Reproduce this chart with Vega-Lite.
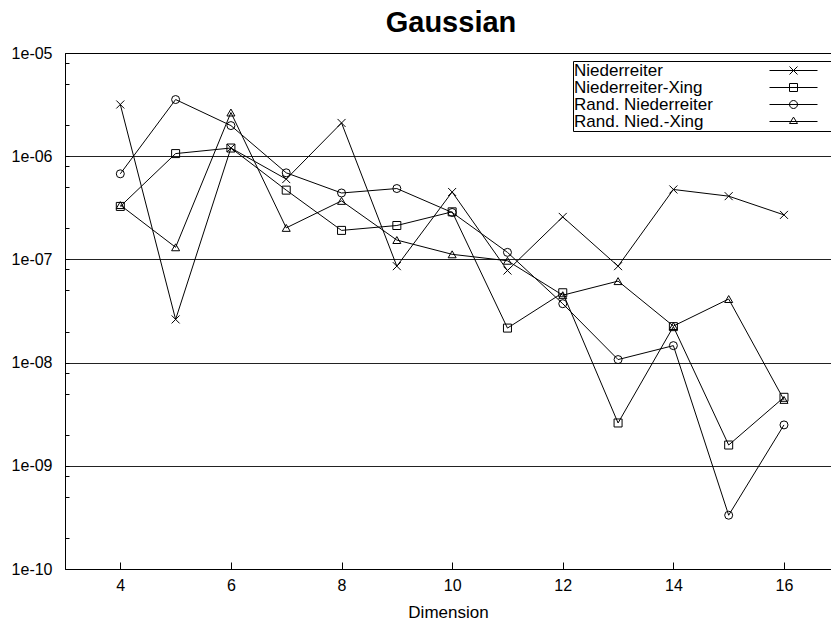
{
  "$schema": "https://vega.github.io/schema/vega-lite/v6.json",
  "width": 766,
  "height": 516,
  "autosize": {"type": "none"},
  "padding": {"left": 65, "top": 53, "right": 0, "bottom": 57},
  "background": "white",
  "title": {"text": "Gaussian", "fontSize": 29, "fontWeight": "bold", "anchor": "middle", "offset": 7, "dx": 3, "color": "black"},
  "config": {
    "font": "Liberation Sans",
    "view": {"stroke": null},
    "axis": {"labelColor": "black", "titleColor": "black", "domainColor": "black", "tickColor": "black", "domainWidth": 1, "tickWidth": 1}
  },
  "data": {"values": [
    {"d": 4, "series": "Niederreiter", "v": 3.17e-6},
    {"d": 5, "series": "Niederreiter", "v": 2.62e-8},
    {"d": 6, "series": "Niederreiter", "v": 1.2e-6},
    {"d": 7, "series": "Niederreiter", "v": 6.0e-7},
    {"d": 8, "series": "Niederreiter", "v": 2.1e-6},
    {"d": 9, "series": "Niederreiter", "v": 8.6e-8},
    {"d": 10, "series": "Niederreiter", "v": 4.5e-7},
    {"d": 11, "series": "Niederreiter", "v": 7.8e-8},
    {"d": 12, "series": "Niederreiter", "v": 2.58e-7},
    {"d": 13, "series": "Niederreiter", "v": 8.6e-8},
    {"d": 14, "series": "Niederreiter", "v": 4.76e-7},
    {"d": 15, "series": "Niederreiter", "v": 4.1e-7},
    {"d": 16, "series": "Niederreiter", "v": 2.7e-7},
    {"d": 4, "series": "Niederreiter-Xing", "v": 3.26e-7},
    {"d": 5, "series": "Niederreiter-Xing", "v": 1.06e-6},
    {"d": 6, "series": "Niederreiter-Xing", "v": 1.2e-6},
    {"d": 7, "series": "Niederreiter-Xing", "v": 4.69e-7},
    {"d": 8, "series": "Niederreiter-Xing", "v": 1.91e-7},
    {"d": 9, "series": "Niederreiter-Xing", "v": 2.13e-7},
    {"d": 10, "series": "Niederreiter-Xing", "v": 2.89e-7},
    {"d": 11, "series": "Niederreiter-Xing", "v": 2.16e-8},
    {"d": 12, "series": "Niederreiter-Xing", "v": 4.75e-8},
    {"d": 13, "series": "Niederreiter-Xing", "v": 2.6e-9},
    {"d": 14, "series": "Niederreiter-Xing", "v": 2.23e-8},
    {"d": 15, "series": "Niederreiter-Xing", "v": 1.59e-9},
    {"d": 16, "series": "Niederreiter-Xing", "v": 4.61e-9},
    {"d": 4, "series": "Rand. Niederreiter", "v": 6.75e-7},
    {"d": 5, "series": "Rand. Niederreiter", "v": 3.54e-6},
    {"d": 6, "series": "Rand. Niederreiter", "v": 1.98e-6},
    {"d": 7, "series": "Rand. Niederreiter", "v": 6.9e-7},
    {"d": 8, "series": "Rand. Niederreiter", "v": 4.4e-7},
    {"d": 9, "series": "Rand. Niederreiter", "v": 4.86e-7},
    {"d": 10, "series": "Rand. Niederreiter", "v": 2.85e-7},
    {"d": 11, "series": "Rand. Niederreiter", "v": 1.17e-7},
    {"d": 12, "series": "Rand. Niederreiter", "v": 3.72e-8},
    {"d": 13, "series": "Rand. Niederreiter", "v": 1.07e-8},
    {"d": 14, "series": "Rand. Niederreiter", "v": 1.46e-8},
    {"d": 15, "series": "Rand. Niederreiter", "v": 3.32e-10},
    {"d": 16, "series": "Rand. Niederreiter", "v": 2.49e-9},
    {"d": 4, "series": "Rand. Nied.-Xing", "v": 3.36e-7},
    {"d": 5, "series": "Rand. Nied.-Xing", "v": 1.31e-7},
    {"d": 6, "series": "Rand. Nied.-Xing", "v": 2.65e-6},
    {"d": 7, "series": "Rand. Nied.-Xing", "v": 2.02e-7},
    {"d": 8, "series": "Rand. Nied.-Xing", "v": 3.69e-7},
    {"d": 9, "series": "Rand. Nied.-Xing", "v": 1.54e-7},
    {"d": 10, "series": "Rand. Nied.-Xing", "v": 1.12e-7},
    {"d": 11, "series": "Rand. Nied.-Xing", "v": 9.7e-8},
    {"d": 12, "series": "Rand. Nied.-Xing", "v": 4.5e-8},
    {"d": 13, "series": "Rand. Nied.-Xing", "v": 6.16e-8},
    {"d": 14, "series": "Rand. Nied.-Xing", "v": 2.26e-8},
    {"d": 15, "series": "Rand. Nied.-Xing", "v": 4.13e-8},
    {"d": 16, "series": "Rand. Nied.-Xing", "v": 4.35e-9}
  ]},
  "layer": [
    {
      "mark": {"type": "line", "color": "black", "strokeWidth": 1},
      "encoding": {
        "x": {"field": "d", "type": "quantitative", "scale": {"domain": [3, 16.85], "nice": false, "zero": false},
              "axis": {"values": [4, 6, 8, 10, 12, 14, 16], "tickSize": -7, "labelFontSize": 16, "labelPadding": 15, "grid": false, "title": "Dimension", "titleFontSize": 17, "titleFontWeight": "normal", "titlePadding": 11, "labelFlush": false}},
        "y": {"field": "v", "type": "quantitative", "scale": {"type": "log", "domain": [1e-10, 1e-5], "nice": false},
              "axis": {
                "values": [1e-10, 2e-10, 5e-10, 8e-10, 1e-9, 2e-9, 5e-9, 8e-9, 1e-8, 2e-8, 5e-8, 8e-8, 1e-7, 2e-7, 5e-7, 8e-7, 1e-6, 2e-6, 5e-6, 8e-6, 1e-5],
                "format": ".0e",
                "labelExpr": "substring(datum.label,0,2)=='1e' ? (datum.value > 5e-10 ? replace(datum.label,'e-','e-0') : datum.label) : ''",
                "labelFontSize": 16, "labelPadding": 17, "tickSize": -4, "title": null,
                "grid": true, "gridColor": "#222", "gridWidth": 1,
                "gridOpacity": {"condition": {"test": "substring(format(datum.value,'.0e'),0,2)=='1e'", "value": 1}, "value": 0},
                "labelFlush": false
              }},
        "detail": {"field": "series"}
      }
    },
    {
      "mark": {"type": "point", "filled": false, "color": "black", "strokeWidth": 1, "size": 64, "opacity": 1},
      "encoding": {
        "x": {"field": "d", "type": "quantitative", "axis": null},
        "y": {"field": "v", "type": "quantitative"},
        "shape": {"field": "series", "type": "nominal",
                  "scale": {"domain": ["Niederreiter", "Niederreiter-Xing", "Rand. Niederreiter", "Rand. Nied.-Xing"],
                            "range": ["M-1,-1L1,1M-1,1L1,-1", "square", "circle", "triangle-up"]},
                  "legend": null}
      }
    },
    {
      "transform": [{"filter": "false"}],
      "mark": {"type": "point", "filled": false, "color": "black", "strokeWidth": 1, "size": 64, "opacity": 1},
      "encoding": {
        "x": {"field": "d", "type": "quantitative", "axis": null},
        "y": {"field": "v", "type": "quantitative"},
        "shape": {"field": "series", "type": "nominal",
                  "scale": {"domain": ["Niederreiter", "Niederreiter-Xing", "Rand. Niederreiter", "Rand. Nied.-Xing"],
                            "range": ["M-6,0H6M-1,-1L1,1M-1,1L1,-1M9.75,0", "M-6,0H6M-1,-1H1V1H-1ZM9.75,0", "M-6,0H6M1,0A1,1,0,1,1,-1,0A1,1,0,1,1,1,0M9.75,0", "M-6,0H6M0,-1.1L1,0.5H-1ZM9.75,0"]},
                  "legend": {"title": null, "orient": "none", "legendX": 508, "legendY": 8, "strokeColor": "black", "fillColor": "white", "padding": 1,
                             "labelFontSize": 17, "labelColor": "black", "labelOffset": -228, "labelLimit": 250, "symbolOffset": 211, "symbolSize": 64,
                             "symbolStrokeWidth": 1, "symbolStrokeColor": "black", "symbolFillColor": "transparent", "rowPadding": -1, "cornerRadius": 0}}
      }
    },
    {
      "transform": [{"filter": "false"}],
      "mark": {"type": "rule", "color": "black"},
      "encoding": {
        "x": {"field": "d", "type": "quantitative", "axis": {"orient": "top", "labels": false, "ticks": false, "title": null, "grid": false, "domain": true}}
      }
    }
  ],
  "resolve": {"scale": {"shape": "independent"}, "axis": {"x": "independent"}}
}
